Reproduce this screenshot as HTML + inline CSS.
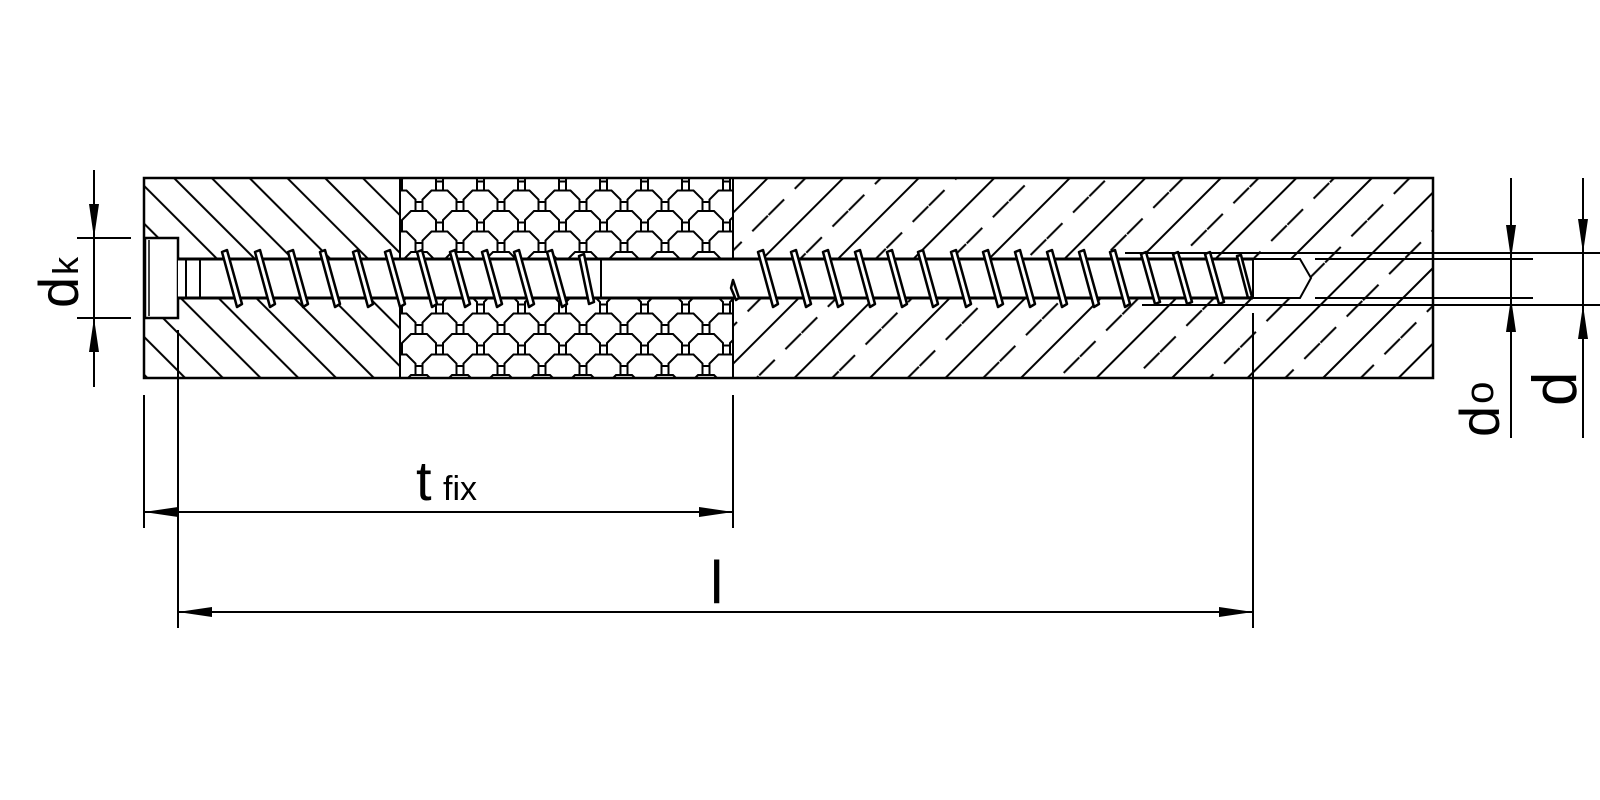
<!DOCTYPE html>
<html><head><meta charset="utf-8"><style>
html,body{margin:0;padding:0;background:#fff;width:1600px;height:800px;overflow:hidden}
svg{display:block}
text{font-family:"Liberation Sans","DejaVu Sans",sans-serif;fill:#000}
</style></head><body>
<svg width="1600" height="800" viewBox="0 0 1600 800" xmlns="http://www.w3.org/2000/svg">
<defs>
<pattern id="hl" patternUnits="userSpaceOnUse" width="26.7" height="20" patternTransform="rotate(-45 144 178)">
<line x1="5" y1="0" x2="5" y2="20" stroke="#000" stroke-width="2"/>
</pattern>
<pattern id="hr" patternUnits="userSpaceOnUse" width="53.4" height="60" patternTransform="rotate(45 733 178)">
<line x1="10" y1="0" x2="10" y2="60" stroke="#000" stroke-width="2"/>
<line x1="36.7" y1="0" x2="36.7" y2="60" stroke="#000" stroke-width="2" stroke-dasharray="22 15"/>
</pattern>
<path id="o" d="M9 0 H25 L34 9 V23 L25 32 H9 L0 23 V9 Z" fill="#fff" stroke="#000" stroke-width="2"/>
<pattern id="oc" patternUnits="userSpaceOnUse" x="402" y="170" width="41" height="41">
<use href="#o" x="-20.5" y="-20.5"/><use href="#o" x="20.5" y="-20.5"/>
<use href="#o" x="-41" y="0"/><use href="#o" x="0" y="0"/><use href="#o" x="41" y="0"/>
<use href="#o" x="-20.5" y="20.5"/><use href="#o" x="20.5" y="20.5"/>
<use href="#o" x="-41" y="41"/><use href="#o" x="0" y="41"/><use href="#o" x="41" y="41"/>
</pattern>
<marker id="a" markerWidth="34" markerHeight="12" refX="34" refY="6" orient="auto" markerUnits="userSpaceOnUse">
<path d="M0 1 L34 6 L0 11 Z" fill="#000"/>
</marker>
</defs>

<rect x="144" y="178" width="256" height="200" fill="url(#hl)"/>
<rect x="400" y="178" width="333" height="200" fill="url(#oc)"/>
<rect x="733" y="178" width="700" height="200" fill="url(#hr)"/>
<rect x="144" y="178" width="1289" height="200" fill="none" stroke="#000" stroke-width="2.5"/>
<line x1="400" y1="178" x2="400" y2="378" stroke="#000" stroke-width="2"/>
<line x1="733" y1="178" x2="733" y2="378" stroke="#000" stroke-width="2"/>

<line x1="1125" y1="253" x2="1600" y2="253" stroke="#000" stroke-width="2"/>
<line x1="1142" y1="305" x2="1600" y2="305" stroke="#000" stroke-width="2"/>
<line x1="1315" y1="259" x2="1533" y2="259" stroke="#000" stroke-width="2"/>
<line x1="1315" y1="298" x2="1533" y2="298" stroke="#000" stroke-width="2"/>

<rect x="145" y="238" width="33" height="80" fill="#fff" stroke="#000" stroke-width="2.5"/>
<line x1="149" y1="240" x2="149" y2="316" stroke="#000" stroke-width="1.5"/>
<rect x="178" y="259" width="1075" height="39" fill="#fff"/>
<line x1="178" y1="259" x2="1253" y2="259" stroke="#000" stroke-width="3"/>
<line x1="178" y1="298" x2="1253" y2="298" stroke="#000" stroke-width="3"/>
<line x1="186" y1="259" x2="186" y2="298" stroke="#000" stroke-width="2"/>
<line x1="200" y1="259" x2="200" y2="298" stroke="#000" stroke-width="2"/>
<line x1="601" y1="259" x2="601" y2="298" stroke="#000" stroke-width="2"/>
<path d="M1253 259 H1300 L1311 278 L1300 298 H1253 Z" fill="#fff" stroke="#000" stroke-width="2"/>
<g fill="#fff" stroke="#000" stroke-width="2.5" stroke-linejoin="round">
<path d="M222 252 l5 -2 l15 54 l-5 3 Z"/><path d="M255 252 l5 -2 l15 54 l-5 3 Z"/><path d="M288 252 l5 -2 l15 54 l-5 3 Z"/><path d="M320 252 l5 -2 l15 54 l-5 3 Z"/><path d="M353 252 l5 -2 l15 54 l-5 3 Z"/><path d="M385 252 l5 -2 l15 54 l-5 3 Z"/><path d="M417 252 l5 -2 l15 54 l-5 3 Z"/><path d="M450 252 l5 -2 l15 54 l-5 3 Z"/><path d="M482 252 l5 -2 l15 54 l-5 3 Z"/><path d="M514 252 l5 -2 l15 54 l-5 3 Z"/><path d="M547 252 l5 -2 l15 54 l-5 3 Z"/><path d="M579 256 l5 -2 l10 48 l-5 2 Z"/>
<path d="M758 252 l5 -2 l15 54 l-5 3 Z"/><path d="M791 252 l5 -2 l15 54 l-5 3 Z"/><path d="M823 252 l5 -2 l15 54 l-5 3 Z"/><path d="M855 252 l5 -2 l15 54 l-5 3 Z"/><path d="M887 252 l5 -2 l15 54 l-5 3 Z"/><path d="M918 252 l5 -2 l15 54 l-5 3 Z"/><path d="M951 252 l5 -2 l15 54 l-5 3 Z"/><path d="M983 252 l5 -2 l15 54 l-5 3 Z"/><path d="M1015 252 l5 -2 l15 54 l-5 3 Z"/><path d="M1047 252 l5 -2 l15 54 l-5 3 Z"/><path d="M1079 252 l5 -2 l15 54 l-5 3 Z"/><path d="M1110 252 l5 -2 l15 54 l-5 3 Z"/><path d="M1141 254 l5 -2 l14 50 l-5 2 Z"/><path d="M1173 254 l5 -2 l14 50 l-5 2 Z"/><path d="M1205 254 l5 -2 l14 50 l-5 2 Z"/><path d="M1237 256 l4 -1 l11 42 l-4 1 Z"/>
<path d="M733 280 l6 18 l-3 2 l-5 -12 Z"/>
</g>

<g stroke="#000" stroke-width="2" fill="none">
<line x1="94" y1="170" x2="94" y2="238" marker-end="url(#a)"/>
<line x1="94" y1="387" x2="94" y2="318" marker-end="url(#a)"/>
<line x1="94" y1="238" x2="94" y2="318"/>
<line x1="77" y1="238" x2="131" y2="238"/>
<line x1="77" y1="318" x2="131" y2="318"/>
<line x1="1511" y1="178" x2="1511" y2="259" marker-end="url(#a)"/>
<line x1="1511" y1="438" x2="1511" y2="298" marker-end="url(#a)"/>
<line x1="1511" y1="259" x2="1511" y2="298"/>
<line x1="1583" y1="178" x2="1583" y2="253" marker-end="url(#a)"/>
<line x1="1583" y1="438" x2="1583" y2="305" marker-end="url(#a)"/>
<line x1="1583" y1="253" x2="1583" y2="305"/>
<line x1="144" y1="395" x2="144" y2="528"/>
<line x1="178" y1="330" x2="178" y2="628"/>
<line x1="733" y1="395" x2="733" y2="528"/>
<line x1="1253" y1="313" x2="1253" y2="628"/>
<line x1="400" y1="512" x2="144" y2="512" marker-end="url(#a)"/>
<line x1="400" y1="512" x2="733" y2="512" marker-end="url(#a)"/>
<line x1="700" y1="612" x2="178" y2="612" marker-end="url(#a)"/>
<line x1="700" y1="612" x2="1253" y2="612" marker-end="url(#a)"/>
</g>

<text x="416" y="500" font-size="56">t</text>
<text x="443" y="500" font-size="34">fix</text>
<text x="710" y="603" font-size="60">l</text>
<text transform="translate(78,308) rotate(-90)" font-size="56">d<tspan font-size="36" dx="2">k</tspan></text>
<text transform="translate(1499,437) rotate(-90)" font-size="56">d<tspan font-size="40" dx="2" dy="-6">o</tspan></text>
<text transform="translate(1576,406) rotate(-90)" font-size="62">d</text>
</svg>
</body></html>
